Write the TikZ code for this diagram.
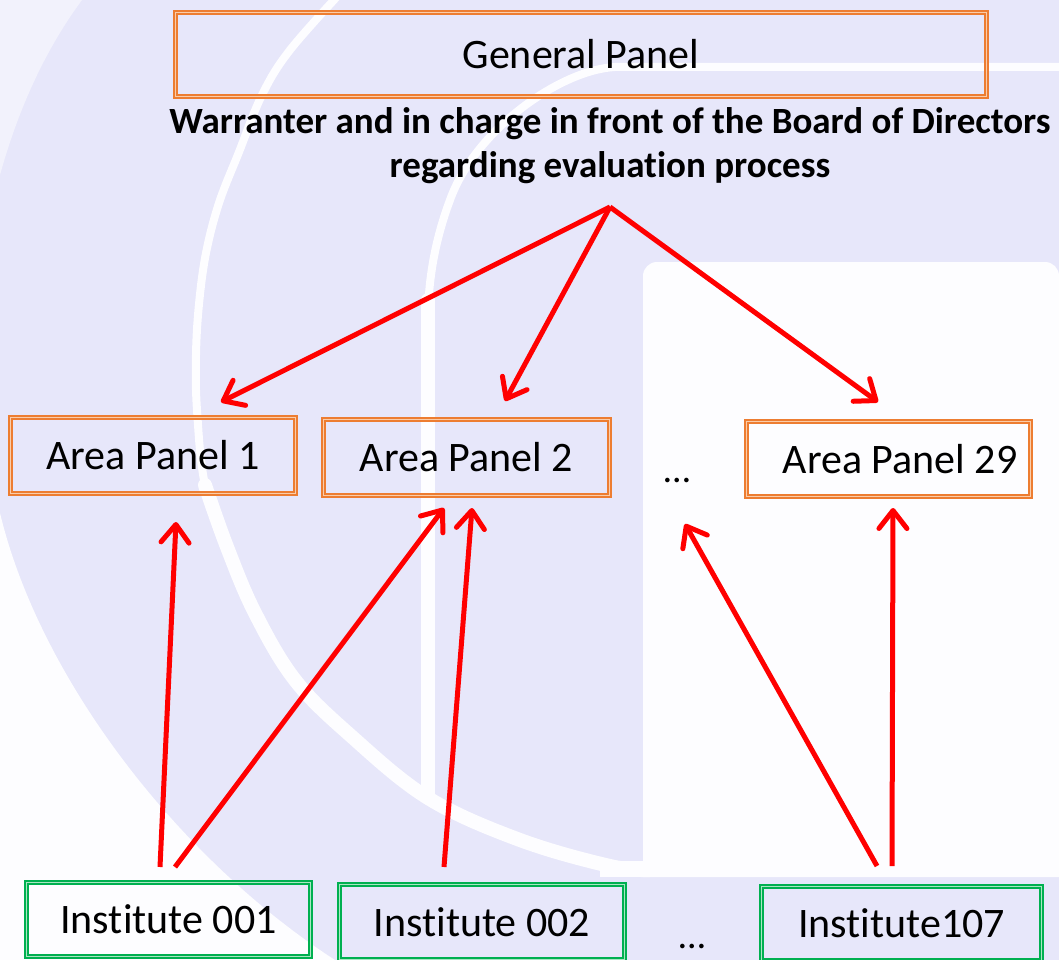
\documentclass[tikz,border=0pt]{standalone}
\usepackage{fontspec}
\setmainfont{Carlito}[RawFeature={-liga,-clig,-calt,-dlig}]
\usetikzlibrary{arrows.meta}
\definecolor{lav}{RGB}{231,231,250}
\definecolor{wm}{RGB}{253,253,255}
\definecolor{wmsoft}{RGB}{242,242,252}
\definecolor{orangeP}{RGB}{237,125,49}
\definecolor{orangeL}{RGB}{250,205,170}
\definecolor{greenP}{RGB}{0,176,80}
\definecolor{greenL}{RGB}{170,230,195}
\definecolor{redA}{RGB}{255,0,0}
\begin{document}
\begin{tikzpicture}[x=1pt,y=-1pt,
  box/.style={rectangle, inner sep=0pt, font=\fontsize{42}{50}\selectfont},
  panel/.style={box, draw=orangeP, double=orangeL, line width=1.9pt, double distance=1.6pt},
  inst/.style={box, draw=greenP, double=greenL, line width=1.9pt, double distance=1.6pt},
  dots/.style={font=\fontsize{38}{40}\selectfont, inner sep=0pt, anchor=base},
  arr/.style={draw=redA, line width=5pt, line cap=butt,
    -{Straight Barb[length=18pt, width=28pt, round]}},
  wmline/.style={draw=wm, line cap=round, line join=round}
]
% background and watermark
\useasboundingbox (0,0) rectangle (1059,960);
\fill[lav] (0,0) rectangle (1059,960);
\fill[wmsoft] (0,0) -- (82,0) .. controls (45,50) and (18,110) .. (0,175) -- cycle;
\fill[wm] (0,513) .. controls (40,680) and (180,860) .. (335,960) -- (0,960) -- cycle;
\fill[wm] (643,877) [rounded corners=14pt] -- (643,262) -- (1059,262) [sharp corners] -- (1059,877) -- cycle;
\draw[wmline, line width=8pt] plot[smooth, tension=0.6] coordinates {(345,-12) (290,50) (262,95) (239,152) (219,203) (206,253) (199,304) (196,355) (197,410) (205,485) (227,547) (255,613)};
\draw[wmline, line width=14pt] plot[smooth, tension=0.6] coordinates {(205,485) (227,547) (255,613) (295,680) (350,735) (428,798) (520,840) (610,866) (650,870)};
\fill[wm] (600,861) rectangle (645,877);
\draw[wmline, line width=8pt] (1065,67) -- (615,67) .. controls (560,70) and (475,130) .. (450,200) .. controls (435,240) and (428,280) .. (428,320);
\draw[wmline, line width=14pt] (428,300) -- (428,795);

% boxes
\node[panel, minimum width=811pt, minimum height=84pt] (gp) at (581,54.5) {General Panel};
\node[font=\bfseries\fontsize{37}{44}\selectfont, align=center, inner sep=0pt] (desc) at (610,146)
  {Warranter and in charge in front of the Board of Directors\\regarding evaluation process};
\node[panel, minimum width=285pt, minimum height=76pt] (ap1) at (153,455.5) {Area Panel 1};
\node[panel, minimum width=286pt, minimum height=76pt] (ap2) at (466.5,457.5) {Area Panel 2};
\node[panel, minimum width=284pt, minimum height=75pt] (ap29) at (888.5,459) {\hspace*{23pt}Area Panel 29};
\node[dots] (dotsA) at (677,482) {…};
\node[inst, minimum width=284pt, minimum height=74pt] (i1) at (168.5,919.5) {Institute 001};
\node[inst, minimum width=285pt, minimum height=75pt] (i2) at (482,922) {Institute 002};
\node[inst, minimum width=280pt, minimum height=74pt] (i107) at (901.5,923.5) {Institute107};
\node[dots] (dotsB) at (692,948) {…};

% connector end points
\coordinate (apex) at (610,207);
\coordinate (t1) at (221,402);
\coordinate (t2) at (505,401);
\coordinate (t29) at (878,402);
\coordinate (s1a) at (160,867);
\coordinate (s1b) at (175,867);
\coordinate (s2) at (444,867);
\coordinate (s3a) at (877,866);
\coordinate (s3b) at (892,866);
\coordinate (u1) at (176,522);
\coordinate (u2a) at (444,508);
\coordinate (u2b) at (472,508);
\coordinate (ud) at (685,524);
\coordinate (u29) at (893,508);

% connectors
\draw[arr] (apex) -- (t1);
\draw[arr] (apex) -- (t2);
\draw[arr] (apex) -- (t29);
\draw[arr] (s1a) -- (u1);
\draw[arr] (s1b) -- (u2a);
\draw[arr] (s2) -- (u2b);
\draw[arr] (s3a) -- (ud);
\draw[arr] (s3b) -- (u29);
\end{tikzpicture}
\end{document}
